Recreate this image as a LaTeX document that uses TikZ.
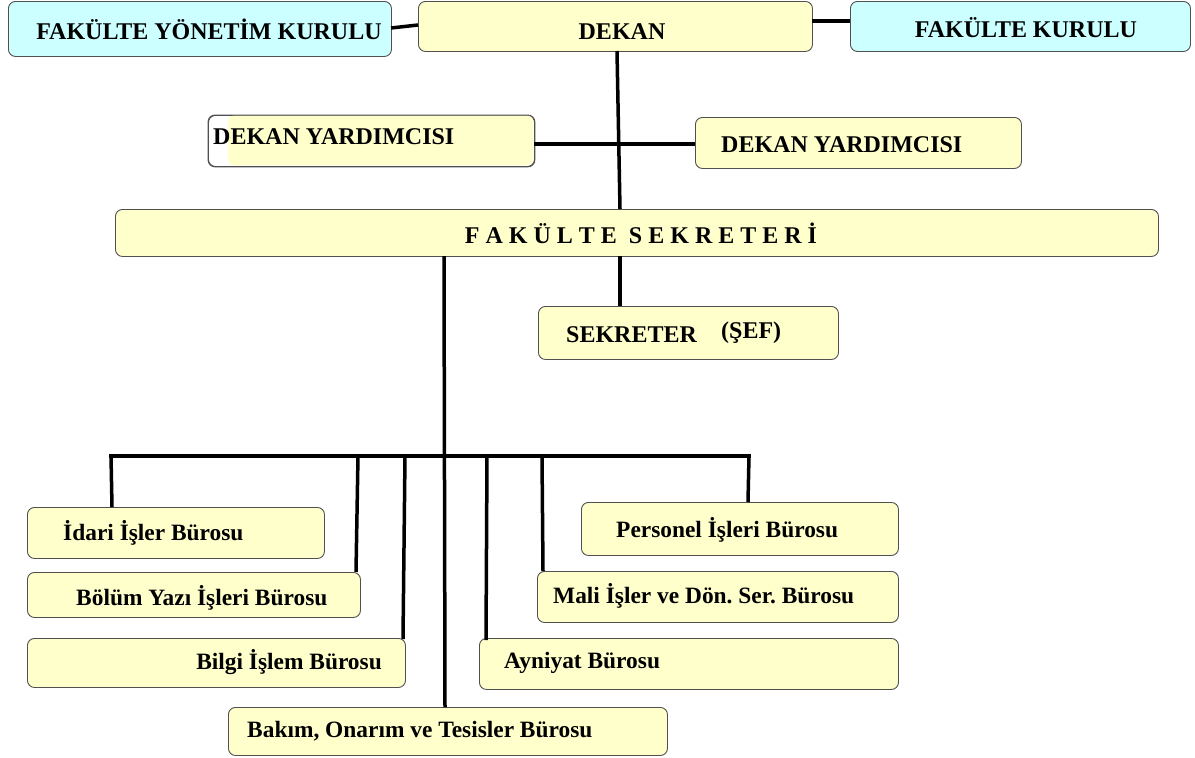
\documentclass[tikz,border=0pt]{standalone}
\usepackage{fontspec}
\setmainfont{Liberation Serif}
\frenchspacing
\definecolor{yfill}{HTML}{FFFFCC}
\definecolor{cfill}{HTML}{CCFFFF}
\definecolor{bord}{HTML}{505050}
\begin{document}
\begin{tikzpicture}[x=1pt,y=-1pt,
  box/.style={draw=bord,line width=0.9pt,rounded corners=7pt,fill=yfill,inner sep=0pt,anchor=north west},
  cbox/.style={box,fill=cfill},
  lbl/.style={inner sep=0pt,font=\fontsize{24}{24}\selectfont\bfseries,text=black},
  sl/.style={inner sep=0pt,font=\fontsize{23.4}{24}\selectfont\bfseries,text=black},
  con/.style={line width=3.5pt,black}]
\useasboundingbox (0,0) rectangle (1195,758);
% top row
\node[cbox,minimum width=383pt,minimum height=55pt] (fyk) at (8,1) {};
\node[lbl] (fyktxt) at (209,29) {FAKÜLTE YÖNETİM KURULU};
\node[box,minimum width=394pt,minimum height=50pt] (dekan) at (418,1) {};
\node[lbl] (dekantxt) at (622,32) {DEKAN};
\node[cbox,minimum width=340pt,minimum height=50pt] (fk) at (850,1) {};
\node[lbl] (fktxt) at (1026,28) {FAKÜLTE KURULU};
% deputies
\node[box,fill=white,minimum width=326pt,minimum height=51pt] (dy1) at (208,115) {};
\fill[yfill,rounded corners=6pt] (228,115.6) rectangle (533.4,165.4);
\draw[bord,line width=0.9pt,rounded corners=7pt] (dy1.north west) rectangle (dy1.south east);
\node[lbl,anchor=west] (dy1txt) at (213,137) {DEKAN YARDIMCISI};
\node[box,minimum width=326pt,minimum height=51pt] (dy2) at (695,117) {};
\node[lbl,anchor=west] (dy2txt) at (721,145) {DEKAN YARDIMCISI};
% secretary
\node[box,minimum width=1043pt,minimum height=47pt] (fs) at (115,209) {};
\node[lbl] (fstxt) at (641,233) {F A K Ü L T E \ S E K R E T E R İ};
\node[box,minimum width=300pt,minimum height=53pt] (sek) at (538,306) {};
\node[lbl,anchor=west] (sektxt) at (566,335) {SEKRETER};
\node[lbl,anchor=west] (seftxt) at (721,333) {(ŞEF)};
% offices
\node[box,minimum width=297pt,minimum height=51pt] (idari) at (27,507) {};
\node[sl,anchor=west] (idaritxt) at (63,533) {İdari İşler Bürosu};
\node[box,minimum width=333pt,minimum height=45pt] (bolum) at (27,572) {};
\node[sl,anchor=west] (bolumtxt) at (76,598) {Bölüm Yazı İşleri Bürosu};
\node[box,minimum width=378pt,minimum height=49pt] (bilgi) at (27,638) {};
\node[sl,anchor=east] (bilgitxt) at (382,662) {Bilgi İşlem Bürosu};
\node[box,minimum width=439pt,minimum height=48pt] (bakim) at (228,707) {};
\node[sl,anchor=west] (bakimtxt) at (247,731) {Bakım, Onarım ve Tesisler Bürosu};
\node[box,minimum width=317pt,minimum height=53pt] (pers) at (581,502) {};
\node[sl,anchor=west] (perstxt) at (616,530) {Personel İşleri Bürosu};
\node[box,minimum width=361pt,minimum height=51pt] (mali) at (537,571) {};
\node[sl,anchor=west] (malitxt) at (553,596) {Mali İşler ve Dön. Ser. Bürosu};
\node[box,minimum width=419pt,minimum height=51pt] (ayn) at (479,638) {};
\node[sl,anchor=west] (ayntxt) at (504,663) {Ayniyat Bürosu};
% connector points
\coordinate (c1) at (391,28);
\coordinate (c2) at (418,25);
\coordinate (c3) at (812,21);
\coordinate (c4) at (850,21);
\coordinate (dtop) at (617,51);
\coordinate (dbot) at (620,209);
\coordinate (dyl) at (534,144);
\coordinate (dyr) at (695,144);
\coordinate (stop) at (620,256);
\coordinate (sbot) at (620,306);
\coordinate (mtop) at (444,256);
\coordinate (mbot) at (445,707);
\coordinate (busL) at (111,456);
\coordinate (busR) at (749,456);
\coordinate (b1) at (358,456);
\coordinate (b2) at (405,456);
\coordinate (b3) at (487,456);
\coordinate (b4) at (542,456);
\coordinate (e1) at (356,572);
\coordinate (e2) at (403,639);
\coordinate (e3) at (486,640);
\coordinate (e4) at (543,571);
\coordinate (e5) at (748,502);
\coordinate (e0) at (112,507);
\draw[con] (c1) -- (c2);
\draw[con] (c3) -- (c4);
\draw[con] (dtop) -- (dbot);
\draw[con] (dyl) -- (dyr);
\draw[con] (stop) -- (sbot);
\draw[con] (mtop) -- (mbot);
\draw[con,line cap=rect] (busL) -- (busR);
\draw[con] (busL) -- (e0);
\draw[con] (b1) -- (e1);
\draw[con] (b2) -- (e2);
\draw[con] (b3) -- (e3);
\draw[con] (b4) -- (e4);
\draw[con] (busR) -- (e5);
\end{tikzpicture}
\end{document}
